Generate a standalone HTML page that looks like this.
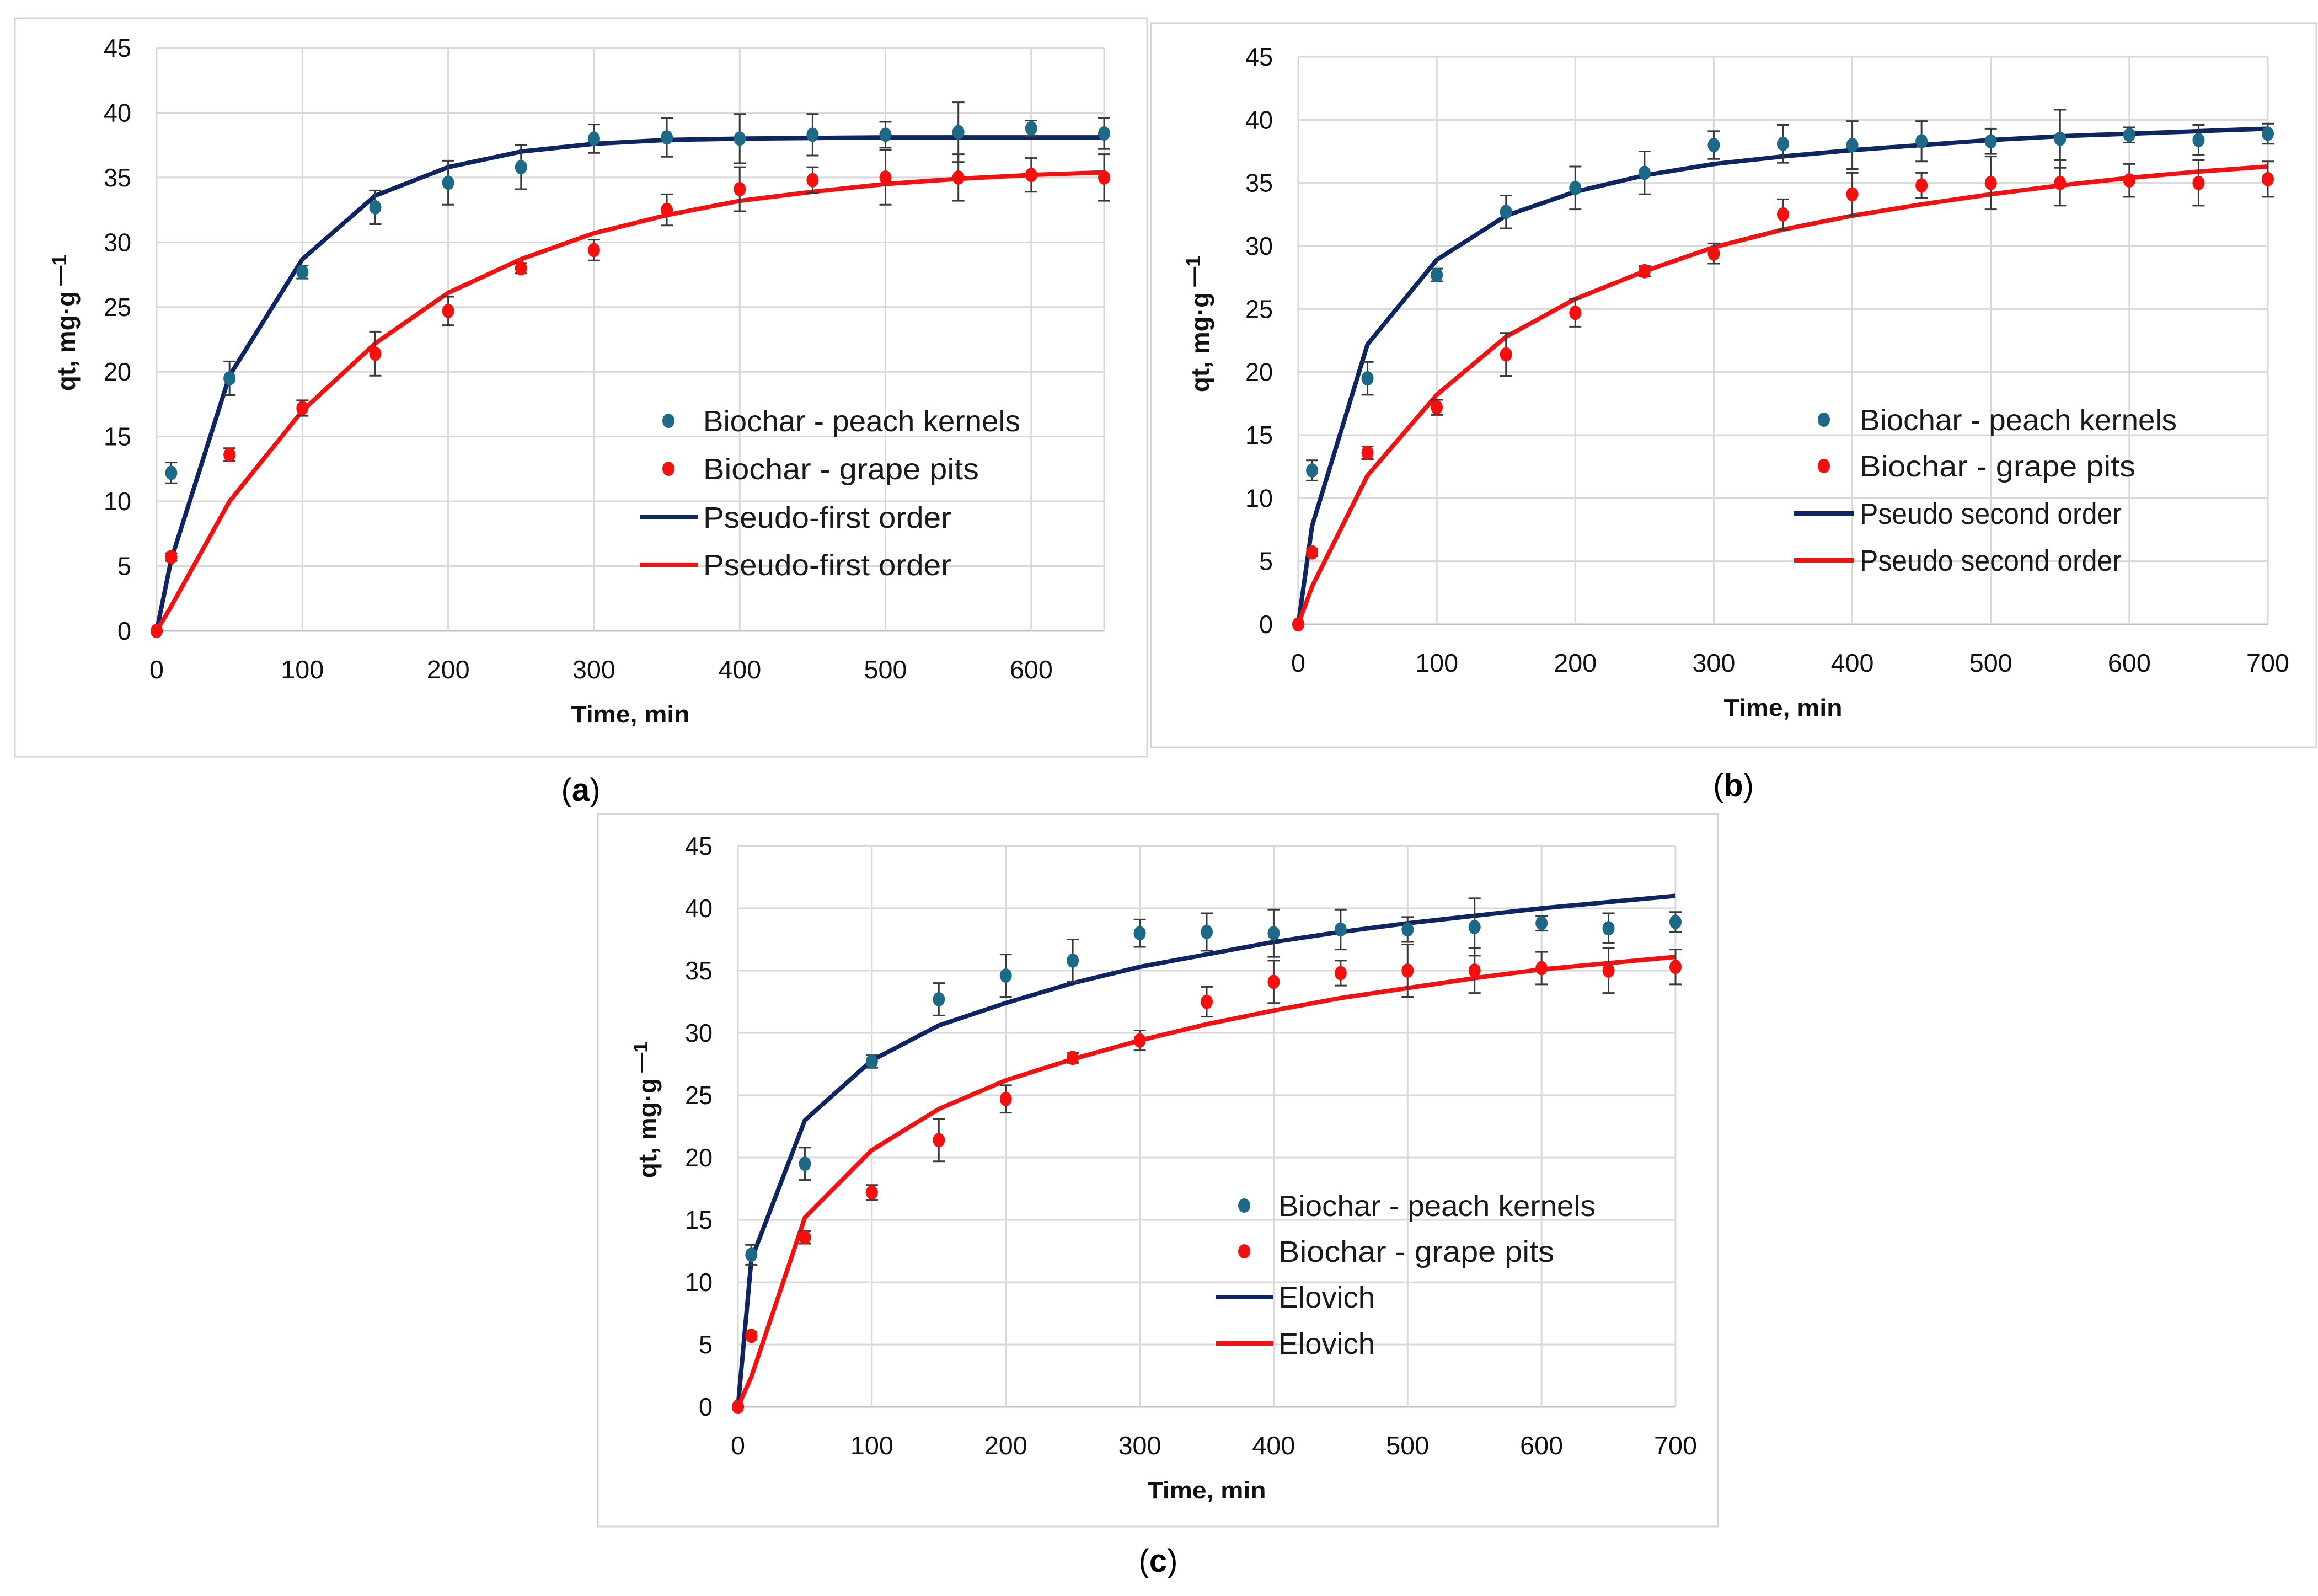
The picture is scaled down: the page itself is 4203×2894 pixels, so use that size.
<!DOCTYPE html>
<html><head><meta charset="utf-8"><style>
html,body{margin:0;padding:0;background:#fff;}
svg{display:block;}
text{font-family:"Liberation Sans",sans-serif;}
</style></head><body>
<svg id="fig" width="4203" height="2894" viewBox="0 0 4203 2894" xmlns="http://www.w3.org/2000/svg"></svg>
<script>
const times=[0,10,50,100,150,200,250,300,350,400,450,500,550,600,650,700];
const peachValues=[0,12.2,19.5,27.7,32.7,34.6,35.8,38.0,38.1,38.0,38.3,38.3,38.5,38.8,38.4,38.9];
const peachErrors=[0,0.8,1.3,0.5,1.3,1.7,1.7,1.1,1.5,1.9,1.6,1.0,2.3,0.6,1.2,0.8];
const grapeValues=[0,5.7,13.6,17.2,21.4,24.7,28.0,29.4,32.5,34.1,34.8,35.0,35.0,35.2,35.0,35.3];
const grapeErrors=[0,0.3,0.5,0.6,1.7,1.1,0.4,0.8,1.2,1.7,1.0,2.1,1.8,1.3,1.8,1.4];
const pfoPeach=[0,5.5,19.7,28.7,33.6,35.8,37.0,37.6,37.9,38.0,38.05,38.1,38.1,38.1,38.1];
const pfoGrape=[0,1.9,10.0,17.0,22.2,26.1,28.7,30.7,32.1,33.2,33.9,34.5,34.9,35.2,35.4];
const psoPeach=[0,7.8,22.2,28.9,32.4,34.3,35.6,36.5,37.1,37.6,38.0,38.4,38.7,38.9,39.1,39.3];
const psoGrape=[0,3.0,11.8,18.2,22.8,25.8,28.0,29.9,31.3,32.4,33.3,34.1,34.8,35.4,35.9,36.3];
const eloPeach=[0,11.8,23.0,27.8,30.6,32.4,34.0,35.3,36.3,37.3,38.1,38.8,39.4,40.0,40.5,41.0];
const eloGrape=[0,2.4,15.2,20.6,23.9,26.2,27.9,29.4,30.7,31.8,32.8,33.6,34.4,35.1,35.6,36.1];
const yTicks=[0,5,10,15,20,25,30,35,40,45];
const xTicksA=[0,100,200,300,400,500,600];
const xTicksBC=[0,100,200,300,400,500,600,700];

const NS="http://www.w3.org/2000/svg";
const svg=document.getElementById('fig');
function mk(tag,attrs,parent,txt){const e=document.createElementNS(NS,tag);for(const k in attrs)e.setAttribute(k,attrs[k]);if(txt!==undefined)e.textContent=txt;(parent||svg).appendChild(e);return e;}

const NAVY="#0e2463",RED="#f50f0f",TEAL="#1d6a88";
const panels=[
 {id:'a',frame:[27,33,2053,1339],x0:284,xMax:650,x1:2002,y0:1144,y45:87,xt:xTicksA,n:15,mp:pfoPeach,mg:pfoGrape,model:'Pseudo-first order',
  leg:{mx:1212,tx:1275,rows:[763,850,938,1024],l0:1160,l1:1265},yt:120,cap:[1053,1452,'(a)']},
 {id:'b',frame:[2087,42,2113,1313],x0:2354,xMax:700,x1:4112,y0:1132,y45:103,xt:xTicksBC,n:16,mp:psoPeach,mg:psoGrape,model:'Pseudo second order',
  leg:{mx:3307,tx:3372,rows:[761,845,931,1016],l0:3253,l1:3361},yt:2176,cap:[3143,1444,'(b)']},
 {id:'c',frame:[1084,1476,2031,1292],x0:1338,xMax:700,x1:3038,y0:2551,y45:1534,xt:xTicksBC,n:16,mp:eloPeach,mg:eloGrape,model:'Elovich',
  leg:{mx:2256,tx:2318,rows:[2186,2269,2352,2436],l0:2205,l1:2309},yt:1174,cap:[2100,2850,'(c)']}
];

panels.forEach(p=>{
 const g=mk('g',{});
 
 
 const xs=v=>p.x0+(v/p.xMax)*(p.x1-p.x0);
 const ys=v=>p.y0-(v/45)*(p.y0-p.y45);
 const fr=mk('rect',{x:p.frame[0],y:p.frame[1],width:p.frame[2],height:p.frame[3],fill:'#fff',stroke:'#d4d4d4','stroke-width':3},g);
 
 
 yTicks.forEach(t=>{
  const l=mk('line',{x1:p.x0,x2:p.x1,y1:ys(t),y2:ys(t),stroke:t===0?'#bfbfbf':'#d9d9d9','stroke-width':3},g);
  
  
  const s=String(t);
  const tx=mk('text',{x:p.x0-46,y:ys(t)+16,'text-anchor':'end','font-size':46,fill:'#111',textLength:s.length*25,lengthAdjust:'spacingAndGlyphs'},g,s);
  
  
 });
 p.xt.forEach(t=>{
  const l=mk('line',{x1:xs(t),x2:xs(t),y1:p.y45,y2:p.y0,stroke:'#d9d9d9','stroke-width':3},g);
  
  
  const s=String(t);
  const tx=mk('text',{x:xs(t),y:p.y0+86,'text-anchor':'middle','font-size':46,fill:'#111',textLength:s.length*26,lengthAdjust:'spacingAndGlyphs'},g,s);
  
  
 });
 if(p.xMax===650){const l=mk('line',{x1:p.x1,x2:p.x1,y1:p.y45,y2:p.y0,stroke:'#d9d9d9','stroke-width':3},g);
  
  }
 const xt=mk('text',{x:(p.x0+p.x1)/2,y:p.y0+166,'text-anchor':'middle','font-size':44,'font-weight':'bold',fill:'#111',textLength:215,lengthAdjust:'spacingAndGlyphs'},g,'Time, min');
 
 
 const cy=(p.y0+p.y45)/2-30;
 const yt=mk('text',{x:0,y:0,transform:`translate(${p.yt+16},${cy}) rotate(-90)`,'text-anchor':'middle','font-size':46,'font-weight':'bold',fill:'#111'},g);
 
 
 mk('tspan',{},yt,'qt, mg·g');
 mk('tspan',{dy:-16,'font-size':36},yt,' —1');
 [[p.mp,NAVY,'model-line-peach'],[p.mg,RED,'model-line-grape']].forEach(([arr,c,nm])=>{
  const pts=arr.map((v,i)=>xs(times[i])+','+ys(v)).join(' ');
  const pl=mk('polyline',{points:pts,fill:'none',stroke:c,'stroke-width':8,'stroke-linejoin':'round'},g);
  
  
 });
 [[peachValues,peachErrors,TEAL,'peach'],[grapeValues,grapeErrors,RED,'grape']].forEach(([vals,errs,c,nm])=>{
  for(let i=0;i<p.n;i++){
   const x=xs(times[i]);
   if(errs[i]>0){
    const e=mk('path',{d:`M${x},${ys(vals[i]+errs[i])}V${ys(vals[i]-errs[i])}M${x-11},${ys(vals[i]+errs[i])}H${x+11}M${x-11},${ys(vals[i]-errs[i])}H${x+11}`,stroke:'#3a3a3a','stroke-width':3,fill:'none'},g);
    
    
   }
   const d=mk('ellipse',{cx:x,cy:ys(vals[i]),rx:11,ry:13,fill:c},g);
   
   
  }
 });
 const L=p.leg;
 const lg=mk('g',{},g);
 
 
 const entries=[['Biochar - peach kernels','dot',TEAL],['Biochar - grape pits','dot',RED],[p.model,'line',NAVY],[p.model,'line',RED]];
 entries.forEach((en,i)=>{
  const y=L.rows[i];
  if(en[1]==='dot'){mk('ellipse',{cx:L.mx,cy:y,rx:11,ry:13,fill:en[2]},lg);}
  else{mk('line',{x1:L.l0,x2:L.l1,y1:y,y2:y,stroke:en[2],'stroke-width':8},lg);}
  const t=mk('text',{x:L.tx,y:y+19,'font-size':54,fill:'#1a1a1a',textLength:en[0].length*25,lengthAdjust:'spacingAndGlyphs'},lg,en[0]);
  
  
 });
 const cap=mk('text',{x:p.cap[0],y:p.cap[1],'text-anchor':'middle','font-size':58,'font-family':'Liberation Serif, serif',fill:'#000'},svg);
 
 
 mk('tspan',{},cap,'(');
 mk('tspan',{'font-weight':'bold'},cap,p.id);
 mk('tspan',{},cap,')');
});
</script>
</body></html>
